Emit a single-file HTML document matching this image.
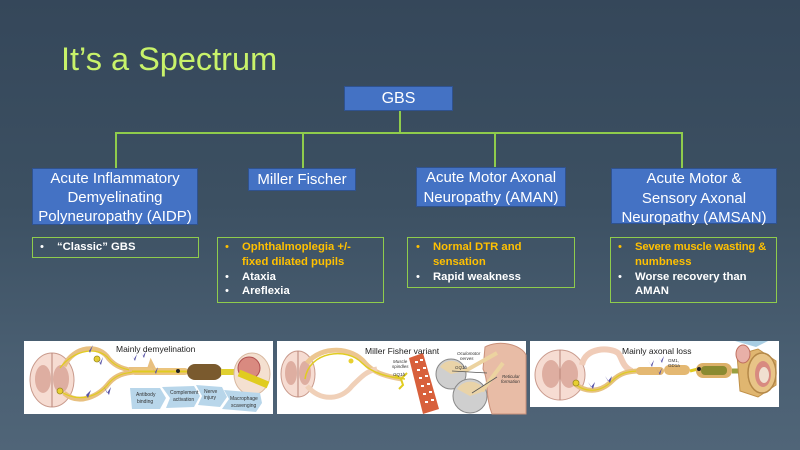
<!DOCTYPE html>
<html><head><meta charset="utf-8">
<style>
html,body{margin:0;padding:0;}
body{width:800px;height:450px;position:relative;overflow:hidden;
background:linear-gradient(180deg,#35475a 0%,#3c5062 45%,#4a5f72 80%,#506578 100%);
font-family:"Liberation Sans",Arial,sans-serif;}
.t{position:absolute;left:61px;top:41px;font-size:32.5px;color:#c8f26a;white-space:nowrap;}
.b{position:absolute;box-sizing:border-box;background:#4472c4;border:1px solid #2f528f;color:#fff;text-align:center;font-size:15px;white-space:nowrap;}
.g{position:absolute;box-sizing:border-box;border:1.5px solid #8fcc4c;}
.l{position:absolute;font-size:11.3px;font-weight:bold;line-height:14.8px;white-space:nowrap;}
.l div{position:relative;}
.l span.d{position:absolute;left:-17px;font-weight:normal;}
.o{color:#ffc000;}
.w{color:#ffffff;}
svg{position:absolute;left:0;top:0;}
</style></head><body>
<div class="t">It’s a Spectrum</div>

<svg width="800" height="450" viewBox="0 0 800 450">
<g stroke="#8fcc4c" stroke-width="2" fill="none">
<path d="M400 111V133M116 133H682M116 132V168M303 132V168M495 132V167M682 132V168"/>
</g>

<!-- Image 1 -->
<g transform="translate(24,341)">
<rect x="0" y="0" width="249" height="73" fill="#fff"/>
<ellipse cx="28" cy="39" rx="22" ry="27" fill="#f6dcd2" stroke="#c99a8c" stroke-width="1"/>
<ellipse cx="19" cy="38" rx="8" ry="14" fill="#d8a295" opacity="0.8"/>
<ellipse cx="37" cy="38" rx="8" ry="14" fill="#d8a295" opacity="0.8"/>
<line x1="28" y1="12" x2="28" y2="66" stroke="#b88478" stroke-width="1"/>
<path d="M40 25 C50 5 75 2 85 18 C92 26 100 28 110 30" stroke="#e8c080" stroke-width="5" fill="none"/>
<path d="M40 52 C55 65 75 55 85 42 C92 34 100 32 110 31" stroke="#e8c080" stroke-width="5" fill="none"/>
<path d="M36 27 C50 8 75 5 85 18 C92 26 100 28 110 30" stroke="#e0cc20" stroke-width="1.2" fill="none"/>
<path d="M36 50 C55 63 75 55 85 42 C92 34 100 32 110 31" stroke="#e0cc20" stroke-width="1.2" fill="none"/>
<circle cx="36" cy="50" r="3" fill="#e8d030" stroke="#9a8a20" stroke-width="0.8"/>
<circle cx="73" cy="18" r="3" fill="#e8d030" stroke="#9a8a20" stroke-width="0.8"/>
<path d="M105 28 L125 28 L127 22 L130 28" stroke="#e8c080" stroke-width="4" fill="none"/>
<rect x="108" y="27" width="56" height="7" rx="3" fill="#ebc47e"/>
<rect x="108" y="29.5" width="56" height="2" fill="#e0cc20"/>
<rect x="163" y="23" width="35" height="16" rx="8" fill="#7a5a2e"/>
<rect x="197" y="28" width="20" height="6" fill="#e0d030"/>
<ellipse cx="228" cy="33" rx="18" ry="21" fill="#f4e0d0" stroke="#d8b8a0" stroke-width="1"/>
<ellipse cx="225" cy="27" rx="11" ry="11" fill="#d98a80" stroke="#b05050" stroke-width="1"/>
<path d="M215 32 L244 44" stroke="#e0cc20" stroke-width="7"/>
<g fill="#5a55a8">
<path d="M62 4 l3 6 l4 -6 l-3 8z"/><path d="M72 17 l4 5 l3 -6 l-2 8z"/><path d="M58 48 l4 6 l5 -5 l-3 8z"/><path d="M80 46 l3 6 l4 -6 l-2 8z"/>
<path d="M107 13 l3 5 l3 -5 l-2 7z"/><path d="M116 10 l3 5 l3 -5 l-2 7z"/><path d="M128 26 l3 5 l3 -5 l-2 7z"/>
</g>
<circle cx="154" cy="30" r="2" fill="#222"/>
<text x="92" y="11" font-size="8.5" fill="#222" font-family="Liberation Sans,sans-serif">Mainly demyelination</text>
<g fill="#b8d6ea">
<path d="M106 47 L136 47 L142 57 L136 68 L108 68 Z"/>
<path d="M138 46 L170 45 L176 55 L170 66 L142 67 L146 57 Z"/>
<path d="M172 44 L198 46 L203 56 L196 66 L174 64 L178 55 Z"/>
<path d="M200 49 L236 52 L238 62 L232 71 L198 68 L205 58 Z"/>
</g>
<g font-size="5" fill="#333" font-family="Liberation Sans,sans-serif">
<text x="112" y="55">Antibody</text><text x="113" y="62">binding</text>
<text x="146" y="53">Complement</text><text x="149" y="60">activation</text>
<text x="180" y="52">Nerve</text><text x="180" y="58">injury</text>
<text x="206" y="59">Macrophage</text><text x="207" y="66">scavenging</text>
</g>
</g>

<!-- Image 2 -->
<g transform="translate(277,341)">
<rect x="0" y="0" width="249" height="73" fill="#fff"/>
<ellipse cx="21" cy="33" rx="17" ry="23" fill="#f6dcd2" stroke="#c99a8c" stroke-width="1"/>
<ellipse cx="14" cy="32" rx="6" ry="12" fill="#d8a295" opacity="0.8"/>
<ellipse cx="28" cy="32" rx="6" ry="12" fill="#d8a295" opacity="0.8"/>
<line x1="21" y1="10" x2="21" y2="56" stroke="#b88478" stroke-width="1"/>
<path d="M30 22 C45 4 75 6 88 22 C95 30 105 35 125 38" stroke="#ecc690" stroke-width="5" fill="none"/>
<path d="M30 45 C45 62 65 58 75 45 C85 35 90 30 100 28" stroke="#f0d0b8" stroke-width="5" fill="none"/>
<path d="M28 38 C32 10 70 6 85 22 C95 32 110 36 128 38" stroke="#e0cc20" stroke-width="1.5" fill="none"/>
<circle cx="74" cy="20" r="2.5" fill="#e8d030"/>
<path d="M118 34 l6 4 l6 -6 M124 38 l2 6 l-4 4" stroke="#e0cc20" stroke-width="2" fill="none"/>
<path d="M132 17 L146 12 L162 68 L146 73 Z" fill="#d8603c"/>
<g fill="#fff">
<rect x="138" y="20" width="3" height="2"/><rect x="143" y="18" width="3" height="2"/><rect x="140" y="28" width="3" height="2"/><rect x="146" y="26" width="3" height="2"/>
<rect x="142" y="36" width="3" height="2"/><rect x="148" y="34" width="3" height="2"/><rect x="144" y="44" width="3" height="2"/><rect x="150" y="42" width="3" height="2"/>
<rect x="146" y="52" width="3" height="2"/><rect x="152" y="50" width="3" height="2"/><rect x="148" y="60" width="3" height="2"/><rect x="154" y="58" width="3" height="2"/>
</g>
<circle cx="174" cy="33" r="15" fill="#cfcfcf" stroke="#888" stroke-width="1"/>
<path d="M163 26 A14 14 0 0 1 188 30 L174 33 Z" fill="#e9d3a8"/>
<circle cx="193" cy="55" r="17" fill="#cfcfcf" stroke="#888" stroke-width="1"/>
<path d="M180 48 A16 16 0 0 1 208 50 L193 55 Z" fill="#e9d3a8"/>
<path d="M208 6 C222 -2 245 4 249 14 L249 73 L215 73 C208 55 212 40 206 28 Z" fill="#e8bca6" stroke="#c9907a" stroke-width="1"/>
<path d="M188 30 L220 12 M205 50 L226 22" stroke="#ecd3a0" stroke-width="4"/>
<path d="M175 30 L210 32 M195 52 L220 36" stroke="#555" stroke-width="0.8"/>
<text x="88" y="13" font-size="8.5" fill="#222" font-family="Liberation Sans,sans-serif">Miller Fisher variant</text>
<g font-size="4.5" fill="#333" font-family="Liberation Sans,sans-serif" font-style="italic">
<text x="116" y="22">Muscle</text><text x="115" y="27">spindles</text><text x="116" y="35">GQ1b</text>
<text x="180" y="14">Oculomotor</text><text x="183" y="19">nerves</text><text x="178" y="28">GQ1b</text>
<text x="225" y="37">Reticular</text><text x="224" y="42">formation</text>
</g>
</g>

<!-- Image 3 -->
<g transform="translate(530,341)">
<rect x="0" y="0" width="249" height="66" fill="#fff"/>
<path d="M205 0 L238 0 L226 6 Z" fill="#a8cde2"/>
<ellipse cx="30" cy="34" rx="25" ry="25" fill="#f6dcd2" stroke="#c99a8c" stroke-width="1"/>
<ellipse cx="21" cy="33" rx="9" ry="14" fill="#d8a295" opacity="0.8"/>
<ellipse cx="39" cy="33" rx="9" ry="14" fill="#d8a295" opacity="0.8"/>
<line x1="30" y1="9" x2="30" y2="59" stroke="#b88478" stroke-width="1"/>
<path d="M52 24 C55 6 80 6 88 12 C92 16 92 26 102 30" stroke="#f0ccb8" stroke-width="6" fill="none"/>
<path d="M44 42 C55 52 70 52 82 40 C90 32 98 30 110 30" stroke="#e6c27e" stroke-width="5" fill="none"/>
<path d="M44 42 C55 52 70 52 82 40 C90 32 98 30 110 30" stroke="#e0cc20" stroke-width="1.2" fill="none"/>
<circle cx="46" cy="42" r="3" fill="#e8d030" stroke="#9a8a20" stroke-width="0.8"/>
<rect x="106" y="26" width="28" height="8" rx="4" fill="#e4b872"/>
<rect x="134" y="24" width="26" height="10" rx="5" fill="#e4b872"/>
<path d="M160 30 L168 28" stroke="#e0cc20" stroke-width="3"/>
<rect x="166" y="22" width="36" height="15" rx="7" fill="#dcb068"/>
<rect x="171" y="25" width="26" height="9" rx="4" fill="#8a8a30"/>
<path d="M202 30 L210 30" stroke="#9aa040" stroke-width="5"/>
<path d="M207 14 L228 8 L246 20 L246 44 L228 56 L210 50 Z" fill="#e0b670" stroke="#c09048" stroke-width="1"/>
<ellipse cx="232" cy="32" rx="14" ry="20" fill="#e8c487" stroke="#b48848" stroke-width="1.5"/>
<ellipse cx="233" cy="33" rx="8" ry="13" fill="#d88a80"/>
<ellipse cx="234" cy="34" rx="5" ry="8" fill="#f0e0d0"/>
<ellipse cx="213" cy="13" rx="7" ry="9" fill="#e8b0a8" stroke="#c07060" stroke-width="1"/>
<g fill="#5a55a8">
<path d="M58 41 l3 5 l4 -5 l-2 7z"/><path d="M75 35 l3 5 l4 -5 l-2 7z"/><path d="M118 19 l3 5 l3 -5 l-2 7z"/><path d="M128 15 l3 5 l3 -5 l-2 7z"/><path d="M126 27 l3 5 l3 -5 l-2 7z"/>
</g>
<circle cx="169" cy="28" r="2" fill="#222"/>
<text x="92" y="13" font-size="8.5" fill="#222" font-family="Liberation Sans,sans-serif">Mainly axonal loss</text>
<text x="138" y="21" font-size="4.5" fill="#333" font-family="Liberation Sans,sans-serif">GM1,</text>
<text x="138" y="26" font-size="4.5" fill="#333" font-family="Liberation Sans,sans-serif">GD1a</text>
</g>
</svg>

<div class="b" style="left:344px;top:86px;width:109px;height:25px;line-height:23px;font-size:16px;">GBS</div>
<div class="b" style="left:32px;top:168px;width:166px;height:57px;line-height:19px;">Acute Inflammatory<br>Demyelinating<br>Polyneuropathy (AIDP)</div>
<div class="b" style="left:248px;top:168px;width:108px;height:23px;line-height:22px;">Miller Fischer</div>
<div class="b" style="left:416px;top:167px;width:150px;height:40px;line-height:20px;">Acute Motor Axonal<br>Neuropathy (AMAN)</div>
<div class="b" style="left:611px;top:168px;width:166px;height:56px;line-height:19.5px;">Acute Motor &amp;<br>Sensory Axonal<br>Neuropathy (AMSAN)</div>

<div class="g" style="left:32px;top:237px;width:167px;height:21px;"></div>
<div class="g" style="left:217px;top:237px;width:167px;height:66px;"></div>
<div class="g" style="left:407px;top:237px;width:168px;height:51px;"></div>
<div class="g" style="left:610px;top:237px;width:167px;height:66px;"></div>

<div class="l" style="left:57px;top:240px;">
<div class="w"><span class="d">•</span>“Classic” GBS</div>
</div>
<div class="l" style="left:242px;top:240px;">
<div class="o"><span class="d">•</span>Ophthalmoplegia +/-</div>
<div class="o">fixed dilated pupils</div>
<div class="w"><span class="d">•</span>Ataxia</div>
<div class="w"><span class="d">•</span>Areflexia</div>
</div>
<div class="l" style="left:433px;top:240px;">
<div class="o"><span class="d">•</span>Normal DTR and</div>
<div class="o">sensation</div>
<div class="w"><span class="d">•</span>Rapid weakness</div>
</div>
<div class="l" style="left:635px;top:240px;">
<div class="o" style="letter-spacing:-0.2px;"><span class="d" style="letter-spacing:0;">•</span>Severe muscle wasting &amp;</div>
<div class="o">numbness</div>
<div class="w"><span class="d">•</span>Worse recovery than</div>
<div class="w">AMAN</div>
</div>
</body></html>
